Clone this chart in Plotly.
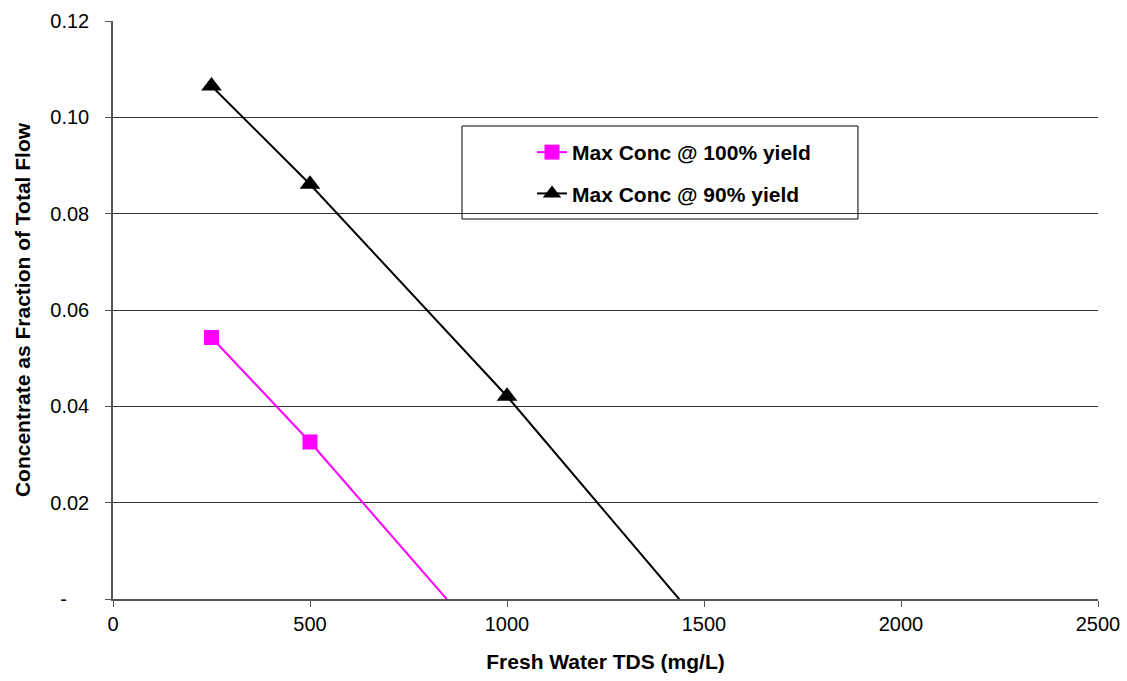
import plotly.graph_objects as go

# Data
tds_100 = [250, 500, 1000]
conc_100 = [0.0543, 0.0326, -0.0144]
tds_90 = [250, 500, 1000, 1500]
conc_90 = [0.1065, 0.0861, 0.0421, -0.0061]

name_100 = "Max Conc @ 100% yield"
name_90 = "Max Conc @ 90% yield"

y_ticks = [0, 0.02, 0.04, 0.06, 0.08, 0.10, 0.12]
y_ticktext = ["-\u00a0\u00a0\u00a0\u00a0", "0.02", "0.04", "0.06", "0.08", "0.10", "0.12"]
x_ticks = [0, 500, 1000, 1500, 2000, 2500]

FONT = "Liberation Sans, Arial, sans-serif"

fig = go.Figure()
fig.add_trace(go.Scatter(
    x=tds_100, y=conc_100, name=name_100, mode="lines+markers",
    line=dict(color="#FF00FF", width=2),
    marker=dict(symbol="square", size=15, color="#FF00FF"),
    legendgroup="a",
))
fig.add_trace(go.Scatter(
    x=tds_90, y=conc_90, name=name_90, mode="lines+markers",
    line=dict(color="#000000", width=2),
    marker=dict(symbol="triangle-up", size=18, color="#000000"),
    legendgroup="b",
))

# legend frame (white box covering gridlines)
fig.add_shape(type="rect", xref="paper", yref="paper",
              x0=0.3543, x1=0.7563, y0=0.6574, y1=0.8183,
              line=dict(color="#000000", width=1), fillcolor="white",
              layer="between")

fig.update_layout(
    width=1127, height=681,
    margin=dict(l=113, r=29, t=21, b=82),
    paper_bgcolor="white", plot_bgcolor="white",
    font=dict(family=FONT, size=20, color="#000000"),
    showlegend=True,
    legend=dict(
        x=0.4254, y=0.808, xanchor="left", yanchor="top",
        bgcolor="rgba(0,0,0,0)", borderwidth=0,
        font=dict(family=FONT, size=21, color="#000000", weight="bold"),
        tracegroupgap=11,
    ),
    xaxis=dict(
        range=[0, 2500], tickvals=x_ticks, ticks="outside", ticklen=6,
        tickcolor="#555555", showline=True, linecolor="#555555", linewidth=1.5,
        showgrid=False, zeroline=False,
        tickfont=dict(size=20),
        title=dict(text="Fresh Water TDS (mg/L)",
                   font=dict(size=21, weight="bold"), standoff=21),
        automargin=False,
    ),
    yaxis=dict(
        range=[0, 0.12], tickvals=y_ticks, ticktext=y_ticktext,
        ticks="outside", ticklen=6, tickcolor="#555555",
        showline=True, linecolor="#555555", linewidth=1.5,
        showgrid=True, gridcolor="#333333", gridwidth=1, zeroline=False,
        tickfont=dict(size=20), ticklabelstandoff=12,
        title=dict(text="Concentrate as Fraction of Total Flow",
                   font=dict(size=21, weight="bold"), standoff=14),
        automargin=False,
    ),
)

fig.write_html("out.html")
